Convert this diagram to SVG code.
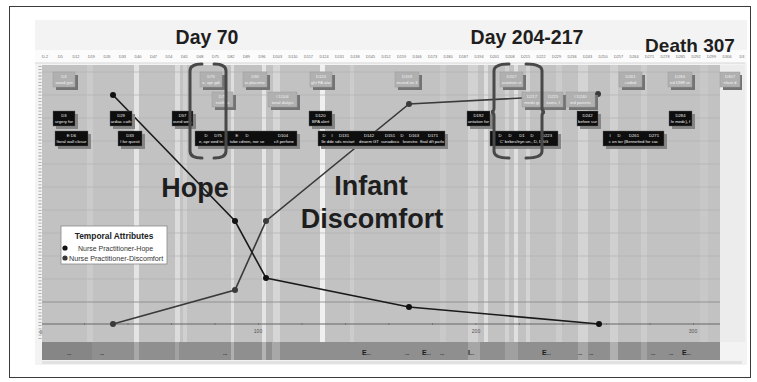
<svg xmlns="http://www.w3.org/2000/svg" width="757" height="382" viewBox="0 0 757 382">
<style>
text{font-family:"Liberation Sans",Arial,sans-serif}
.tick{font-size:3.8px;fill:#6a6a6a;text-anchor:middle}
.title{font-size:19.5px;font-weight:bold;fill:#1e1e1e;text-anchor:middle}
.big{font-size:27px;font-weight:bold;fill:#1e1e1e;text-anchor:middle}
.lb{fill:#b0b0b0;stroke:#9c9c9c;stroke-width:0.5}
.ls{fill:#737373}
.bb{fill:#0e0e0e;stroke:#666;stroke-width:0.4}
.bs{fill:#858585}
.bt{font-size:4.2px;fill:#f2f2f2;text-anchor:middle}
.grid{stroke:#b1b1b1;stroke-width:0.7}
.brk{fill:none;stroke:#484848;stroke-width:3;stroke-linecap:round}
.band{font-size:5px;fill:#2a2a2a;font-weight:bold}
.bandE{font-size:7px;fill:#1a1a1a;font-weight:bold}
.axl{font-size:5px;fill:#555;text-anchor:middle}
</style>
<rect x="0" y="0" width="757" height="382" fill="#ffffff"/>
<rect x="9.5" y="6.5" width="741" height="371" fill="#ffffff" stroke="#3a3a3a" stroke-width="1"/>
<!-- screenshot area -->
<rect x="35" y="20" width="712" height="345" fill="#f3f3f3"/>
<rect x="35" y="50" width="712" height="13" fill="#fbfbfb"/>
<line x1="35" y1="63" x2="745" y2="63" stroke="#cfcfcf" stroke-width="0.8"/>
<g id="tick-labels">
<text class="tick" x="45" y="58">D-2</text><text class="tick" x="60.5" y="58">D5</text><text class="tick" x="76" y="58">D12</text><text class="tick" x="91.5" y="58">D19</text><text class="tick" x="107" y="58">D26</text><text class="tick" x="122.5" y="58">D33</text><text class="tick" x="138" y="58">D40</text><text class="tick" x="153.5" y="58">D47</text><text class="tick" x="169" y="58">D54</text><text class="tick" x="184.5" y="58">D61</text><text class="tick" x="200" y="58">D68</text><text class="tick" x="215.5" y="58">D75</text><text class="tick" x="231" y="58">D82</text><text class="tick" x="246.5" y="58">D89</text><text class="tick" x="262" y="58">D96</text><text class="tick" x="277.5" y="58">D103</text><text class="tick" x="293" y="58">D110</text><text class="tick" x="308.5" y="58">D117</text><text class="tick" x="324" y="58">D124</text><text class="tick" x="339.5" y="58">D131</text><text class="tick" x="355" y="58">D138</text><text class="tick" x="370.5" y="58">D145</text><text class="tick" x="386" y="58">D152</text><text class="tick" x="401.5" y="58">D159</text><text class="tick" x="417" y="58">D166</text><text class="tick" x="432.5" y="58">D173</text><text class="tick" x="448" y="58">D180</text><text class="tick" x="463.5" y="58">D187</text><text class="tick" x="479" y="58">D194</text><text class="tick" x="494.5" y="58">D201</text><text class="tick" x="510" y="58">D208</text><text class="tick" x="525.5" y="58">D215</text><text class="tick" x="541" y="58">D222</text><text class="tick" x="556.5" y="58">D229</text><text class="tick" x="572" y="58">D236</text><text class="tick" x="587.5" y="58">D243</text><text class="tick" x="603" y="58">D250</text><text class="tick" x="618.5" y="58">D257</text><text class="tick" x="634" y="58">D264</text><text class="tick" x="649.5" y="58">D271</text><text class="tick" x="665" y="58">D278</text><text class="tick" x="680.5" y="58">D285</text><text class="tick" x="696" y="58">D292</text><text class="tick" x="711.5" y="58">D299</text><text class="tick" x="727" y="58">D306</text><text class="tick" x="742" y="58">D3</text>
</g>
<!-- chart background -->
<rect x="42" y="65" width="678" height="277" fill="#c2c2c2"/>
<rect x="720" y="65" width="25" height="277" fill="#ececec"/>
<g id="stripes">
<rect x="87" y="65" width="6" height="277" fill="#cbcbcb"/>
<rect x="134" y="65" width="5" height="277" fill="#e4e4e4"/>
<rect x="175" y="65" width="5" height="277" fill="#dcdcdc"/>
<rect x="183" y="65" width="4" height="277" fill="#d0d0d0"/>
<rect x="231" y="65" width="3" height="277" fill="#dedede"/>
<rect x="262" y="65" width="4" height="277" fill="#e4e4e4"/>
<rect x="273" y="65" width="7" height="277" fill="#d6d6d6"/>
<rect x="320" y="65" width="5" height="277" fill="#f0f0f0"/>
<rect x="350" y="65" width="4" height="277" fill="#cccccc"/>
<rect x="440" y="65" width="6" height="277" fill="#c9c9c9"/>
<rect x="468" y="65" width="10" height="277" fill="#d2d2d2"/>
<rect x="484" y="65" width="4" height="277" fill="#dedede"/>
<rect x="505" y="65" width="4" height="277" fill="#d2d2d2"/>
<rect x="514" y="65" width="4" height="277" fill="#e0e0e0"/>
<rect x="526" y="65" width="4" height="277" fill="#d4d4d4"/>
<rect x="556" y="65" width="6" height="277" fill="#cccccc"/>
<rect x="578" y="65" width="10" height="277" fill="#d4d4d4"/>
<rect x="610" y="65" width="8" height="277" fill="#d0d0d0"/>
<rect x="641" y="65" width="6" height="277" fill="#cccccc"/>
<rect x="700" y="65" width="8" height="277" fill="#c8c8c8"/>
</g>
<g id="grid">
<line class="grid" x1="42" y1="72" x2="720" y2="72"/>
<line class="grid" x1="42" y1="95" x2="720" y2="95"/>
<line class="grid" x1="42" y1="118" x2="720" y2="118"/>
<line class="grid" x1="42" y1="141" x2="720" y2="141"/>
<line class="grid" x1="42" y1="164" x2="720" y2="164"/>
<line class="grid" x1="42" y1="187" x2="720" y2="187"/>
<line class="grid" x1="42" y1="210" x2="720" y2="210"/>
<line class="grid" x1="42" y1="233" x2="720" y2="233"/>
<line class="grid" x1="42" y1="256" x2="720" y2="256"/>
<line class="grid" x1="42" y1="279" x2="720" y2="279"/>
<line x1="42" y1="302" x2="720" y2="302" stroke="#8c8c8c" stroke-width="0.9"/>
<line x1="42" y1="324" x2="720" y2="324" stroke="#666" stroke-width="1"/>
<line x1="40" y1="66" x2="40" y2="340" stroke="#9a9a9a" stroke-width="3" stroke-dasharray="0.8 2.4"/>
<path d="M84.5,323v2M128,323v2M171.5,323v2M215,323v2M258.5,323v2M302,323v2M345.5,323v2M389,323v2M432.5,323v2M476,323v2M519.5,323v2M563,323v2M606.5,323v2M650,323v2M693.5,323v2" stroke="#666" stroke-width="0.7"/>
<text class="axl" x="41" y="334">0</text>
<text class="axl" x="258" y="333">100</text>
<text class="axl" x="476" y="333">200</text>
<text class="axl" x="693" y="333">300</text>
</g>
<!-- bottom band -->
<g id="event-band">
<rect x="42" y="342" width="678" height="18" fill="#8f8f8f"/>
<rect x="42" y="342" width="50" height="18" fill="#868686"/>
<rect x="134" y="342" width="5" height="18" fill="#a9a9a9"/>
<rect x="175" y="342" width="4" height="18" fill="#a2a2a2"/>
<rect x="231" y="342" width="3" height="18" fill="#b0b0b0"/>
<rect x="262" y="342" width="4" height="18" fill="#b4b4b4"/>
<rect x="272" y="342" width="8" height="18" fill="#a8a8a8"/>
<rect x="468" y="342" width="12" height="18" fill="#a6a6a6"/>
<rect x="505" y="342" width="13" height="18" fill="#a0a0a0"/>
<rect x="578" y="342" width="10" height="18" fill="#a6a6a6"/>
<rect x="610" y="342" width="8" height="18" fill="#b0b0b0"/>
<rect x="641" y="342" width="6" height="18" fill="#a2a2a2"/>
<rect x="42" y="361" width="700" height="3" fill="#e2e2e2"/>
<text class="band" x="67" y="355">...</text>
<text class="band" x="100" y="355">...</text>
<text class="band" x="223" y="355">...</text>
<text class="bandE" x="362" y="355">E<tspan class="band">...</tspan></text>
<text class="band" x="405" y="355">...</text>
<text class="bandE" x="422" y="355">E<tspan class="band">...</tspan></text>
<text class="band" x="440" y="355">...</text>
<text class="bandE" x="468" y="355">I<tspan class="band">...</tspan></text>
<text class="bandE" x="542" y="355">E<tspan class="band">...</tspan></text>
<text class="band" x="578" y="355">...</text>
<text class="band" x="589" y="355">...</text>
<text class="band" x="651" y="355">...</text>
<text class="band" x="669" y="355">...</text>
<text class="bandE" x="682" y="355">E<tspan class="band">...</tspan></text>
</g>
<!-- connectors: data lines -->
<g id="connectors">
<polyline points="113,324 235,290 266,221 409,104 598,94" fill="none" stroke="#3a3a3a" stroke-width="1.6"/>
<polyline points="113,95 235,221 266,278 409,307 599,324" fill="none" stroke="#1a1a1a" stroke-width="1.6"/>
<g fill="#3a3a3a"><circle cx="113" cy="324" r="3"/><circle cx="235" cy="290" r="3"/><circle cx="266" cy="221" r="3"/><circle cx="409" cy="104" r="3"/><circle cx="598" cy="94" r="3"/></g>
<g fill="#111"><circle cx="113" cy="95" r="3"/><circle cx="235" cy="221" r="3"/><circle cx="266" cy="278" r="3"/><circle cx="409" cy="307" r="3"/><circle cx="599" cy="324" r="3"/></g>
</g>
<!-- light event boxes -->
<g id="L1"><rect class="ls" x="56" y="75" width="22" height="15"/><rect class="lb" x="53" y="72" width="22" height="15"/><text class="bt" x="64" y="78">D3</text><text class="bt" x="64" y="84">wood gro</text></g>
<g id="L2"><rect class="ls" x="203" y="75" width="22" height="15"/><rect class="lb" x="200" y="72" width="22" height="15"/><text class="bt" x="211" y="78">D75</text><text class="bt" x="211" y="84">e, apr gdi</text></g>
<g id="L3"><rect class="ls" x="246" y="75" width="24" height="15"/><rect class="lb" x="243" y="72" width="24" height="15"/><text class="bt" x="255" y="78">D90</text><text class="bt" x="255" y="84">ai placeme</text></g>
<g id="L4"><rect class="ls" x="313" y="75" width="22" height="15"/><rect class="lb" x="310" y="72" width="22" height="15"/><text class="bt" x="321" y="78">D120</text><text class="bt" x="321" y="84">ght FA alar</text></g>
<g id="L5"><rect class="ls" x="398" y="75" width="24" height="15"/><rect class="lb" x="395" y="72" width="24" height="15"/><text class="bt" x="407" y="78">D159</text><text class="bt" x="407" y="84">record on 3</text></g>
<g id="L6"><rect class="ls" x="503" y="75" width="23" height="15"/><rect class="lb" x="500" y="72" width="23" height="15"/><text class="bt" x="511.5" y="78">D207</text><text class="bt" x="511.5" y="84">urantion st</text></g>
<g id="L7"><rect class="ls" x="622" y="75" width="23" height="15"/><rect class="lb" x="619" y="72" width="23" height="15"/><text class="bt" x="630.5" y="78">D261</text><text class="bt" x="630.5" y="84">coded</text></g>
<g id="L8"><rect class="ls" x="671" y="75" width="24" height="15"/><rect class="lb" x="668" y="72" width="24" height="15"/><text class="bt" x="680" y="78">D284</text><text class="bt" x="680" y="84">ed DNR or</text></g>
<g id="L9"><rect class="ls" x="723" y="75" width="19" height="15"/><rect class="lb" x="720" y="72" width="20" height="15"/><text class="bt" x="730" y="78">D307</text><text class="bt" x="730" y="84">nfant d</text></g>
<g id="L10"><rect class="ls" x="215" y="95" width="21" height="15"/><rect class="lb" x="212" y="92" width="21" height="15"/><text class="bt" x="222.5" y="98">D79</text><text class="bt" x="222.5" y="104">notifica</text></g>
<g id="L11"><rect class="ls" x="271" y="95" width="29" height="15"/><rect class="lb" x="268" y="92" width="29" height="15"/><text class="bt" x="282.5" y="98">I    D104</text><text class="bt" x="282.5" y="104">ional dialysi</text></g>
<g id="L12"><rect class="ls" x="525" y="95" width="41" height="15"/><rect class="lb" x="522" y="92" width="41" height="15"/><text class="bt" x="532" y="98">D217</text><text class="bt" x="553" y="98">D225</text><text class="bt" x="532" y="104">medu gr</text><text class="bt" x="553" y="104">eams, f</text></g>
<g id="L13"><rect class="ls" x="569" y="95" width="29" height="15"/><rect class="lb" x="566" y="92" width="29" height="15"/><text class="bt" x="580.5" y="98">I    D240</text><text class="bt" x="580.5" y="104">ied parents</text></g>
<!-- black event boxes -->
<g id="B1"><rect class="bs" x="56" y="114" width="22" height="15"/><rect class="bb" x="53" y="111" width="22" height="15"/><text class="bt" x="64" y="117">D3</text><text class="bt" x="64" y="123">urgery for</text></g>
<g id="B2"><rect class="bs" x="113" y="114" width="22" height="15"/><rect class="bb" x="110" y="111" width="22" height="15"/><text class="bt" x="121" y="117">D29</text><text class="bt" x="121" y="123">ardiac cath</text></g>
<g id="B3"><rect class="bs" x="175" y="114" width="21" height="15"/><rect class="bb" x="172" y="111" width="21" height="15"/><text class="bt" x="182.5" y="117">D57</text><text class="bt" x="182.5" y="123">ound wel ,</text></g>
<g id="B4"><rect class="bs" x="312" y="114" width="23" height="15"/><rect class="bb" x="309" y="111" width="23" height="15"/><text class="bt" x="320.5" y="117">D120</text><text class="bt" x="320.5" y="123">BPA alert</text></g>
<g id="B5"><rect class="bs" x="470" y="114" width="23" height="15"/><rect class="bb" x="467" y="111" width="23" height="15"/><text class="bt" x="478.5" y="117">D192</text><text class="bt" x="478.5" y="123">antation for</text></g>
<g id="B6"><rect class="bs" x="580" y="114" width="21" height="15"/><rect class="bb" x="577" y="111" width="21" height="15"/><text class="bt" x="587.5" y="117">D242</text><text class="bt" x="587.5" y="123">before sur</text></g>
<g id="B7"><rect class="bs" x="672" y="114" width="23" height="15"/><rect class="bb" x="669" y="111" width="23" height="15"/><text class="bt" x="680.5" y="117">D284</text><text class="bt" x="680.5" y="123">le medc), f</text></g>
<g id="B8"><rect class="bs" x="58" y="134" width="33" height="15"/><rect class="bb" x="55" y="131" width="33" height="15"/><text class="bt" x="71.5" y="137">E      D6</text><text class="bt" x="71.5" y="143">Itoral wall closur</text></g>
<g id="B9"><rect class="bs" x="121" y="134" width="24" height="15"/><rect class="bb" x="118" y="131" width="24" height="15"/><text class="bt" x="130" y="137">D33</text><text class="bt" x="130" y="143">l for questi</text></g>
<g id="B10"><rect class="bs" x="198" y="134" width="102" height="15"/><rect class="bb" x="195" y="131" width="102" height="15"/><text class="bt" x="206" y="137">D</text><text class="bt" x="218" y="137">D75</text><text class="bt" x="237" y="137">E</text><text class="bt" x="247" y="137">D</text><text class="bt" x="283" y="137">D104</text><text class="bt" x="211" y="143">e, apr wed tri</text><text class="bt" x="247" y="143">tube cdnen, nor se</text><text class="bt" x="284" y="143">c/t perfone</text></g>
<g id="B11"><rect class="bs" x="321" y="134" width="127" height="15"/><rect class="bb" x="318" y="131" width="127" height="15"/><text class="bt" x="324" y="137">D</text><text class="bt" x="332" y="137">I</text><text class="bt" x="344" y="137">D131</text><text class="bt" x="369" y="137">D142</text><text class="bt" x="390" y="137">D151</text><text class="bt" x="402" y="137">D</text><text class="bt" x="414" y="137">D163</text><text class="bt" x="433" y="137">D171</text><text class="bt" x="338" y="143">lle dde sds restart</text><text class="bt" x="369" y="143">deaem GT</text><text class="bt" x="390" y="143">sunadocu</text><text class="bt" x="410" y="143">lovestro</text><text class="bt" x="432" y="143">ffoal d/t parlo</text></g>
<g id="B12"><rect class="bs" x="493" y="134" width="68" height="15"/><rect class="bb" x="490" y="131" width="68" height="15"/><text class="bt" x="500" y="137">D</text><text class="bt" x="510" y="137">D</text><text class="bt" x="522" y="137">D1</text><text class="bt" x="532" y="137">D</text><text class="bt" x="547" y="137">D223</text><text class="bt" x="524" y="143">C' birbes/tryn un., D, DSG</text></g>
<g id="B13"><rect class="bs" x="606" y="134" width="61" height="15"/><rect class="bb" x="603" y="131" width="61" height="15"/><text class="bt" x="610" y="137">I</text><text class="bt" x="619" y="137">D</text><text class="bt" x="634" y="137">D261</text><text class="bt" x="654" y="137">D271</text><text class="bt" x="633.5" y="143">c on tor (Bennetted for cac</text></g>
<!-- brackets -->
<g id="bracket-day70">
<path class="brk" d="M202,64 Q190,64 190,71 L190,151 Q190,158 202,158"/>
<path class="brk" d="M214,64 Q226,64 226,71 L226,151 Q226,158 214,158"/>
</g>
<g id="bracket-day204">
<path class="brk" d="M509,64 Q494,64 494,71 L494,108 Q494,112 491,112 Q494,112 494,116 L494,151 Q494,158 509,158"/>
<path class="brk" d="M526,64 Q542,64 542,71 L542,108 Q542,112 545,112 Q542,112 542,116 L542,151 Q542,158 526,158"/>
</g>
<!-- titles -->
<text class="title" x="207" y="44">Day 70</text>
<text class="title" x="527" y="44">Day 204-217</text>
<text class="title" x="690" y="52" style="font-size:19px">Death 307</text>
<text class="big" x="195" y="197">Hope</text>
<text class="big" x="371" y="195">Infant</text>
<text class="big" x="372" y="228">Discomfort</text>
<!-- legend -->
<g id="legend">
<rect x="61" y="226" width="106" height="38" fill="#ffffff" stroke="#8a8a8a" stroke-width="0.8"/>
<text x="114" y="239" style="font-size:8.4px;font-weight:bold;fill:#222;text-anchor:middle">Temporal Attributes</text>
<circle cx="65" cy="248" r="2.6" fill="#111"/>
<text x="78" y="251" style="font-size:7px;fill:#333">Nurse Practitioner-Hope</text>
<circle cx="65" cy="258" r="2.6" fill="#3a3a3a"/>
<text x="69" y="261" style="font-size:7.2px;fill:#333">Nurse Practitioner-Discomfort</text>
</g>
</svg>
